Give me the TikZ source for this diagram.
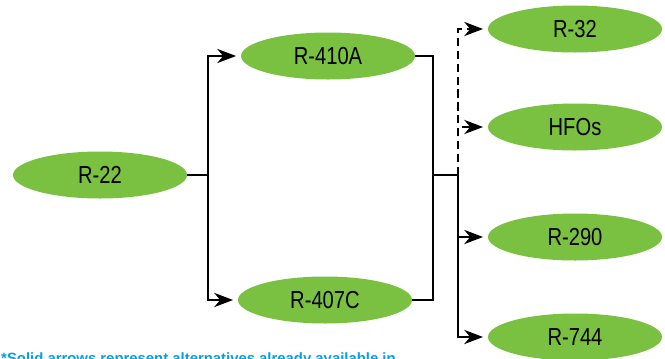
\documentclass[tikz,border=0pt]{standalone}
\usepackage{fontspec}
\setmainfont{Liberation Sans}[FakeStretch=0.82]
\newfontfamily\notefont{Liberation Sans}
\usepackage{tikz}
\usetikzlibrary{arrows.meta,positioning,shapes.geometric}
\definecolor{gasgreen}{RGB}{122,193,66}
\definecolor{noteblue}{RGB}{0,160,225}

\begin{document}
\begin{tikzpicture}[x=0.03cm,y=-0.03cm,
  every node/.style={font=\fontsize{21}{24}\selectfont},
  gas/.style={ellipse,fill=gasgreen,inner sep=0pt,minimum width=5.22cm,minimum height=1.41cm},
  link/.style={line width=2.2pt},
  tip/.style={-{Stealth[length=16pt,width=12pt,inset=5pt]},shorten >=4pt}]
\useasboundingbox (0,0) rectangle (665,358);
\clip (0,0) rectangle (665,358);
% refrigerants
\node[gas] (r22) at (100,175) {R-22};
\node[gas] (r410a) at (328,56) {R-410A};
\node[gas] (r407c) at (325,300) {R-407C};
\node[gas] (r32) at (575,29) {R-32};
\node[gas] (hfos) at (575,127) {HFOs};
\node[gas] (r290) at (575,237) {R-290};
\node[gas] (r744) at (575,337) {R-744};
% junctions
\coordinate (split) at (208,175);
\coordinate (join) at (433,175);
\coordinate (hub) at (458,175);
% connectors
\draw[link] (r22.east) -- (split);
\draw[link,tip] (split) |- (r410a.west);
\draw[link,tip] (split) |- (r407c.west);
\draw[link] (r410a.east) -| (join) |- (r407c.east);
\draw[link] (join) -- (hub);
\draw[link,tip] (hub) |- (r290.west);
\draw[link,tip] (hub) |- (r744.west);
\draw[link,dash pattern=on 7pt off 4pt,tip] (hub) |- (r32.west);
\draw[link,dash pattern=on 7pt off 4pt,tip] (hub) |- (hfos.west);
% note
\node[anchor=base west,inner sep=0pt,text=noteblue,font=\notefont\fontsize{12.7}{15}\selectfont\bfseries] (note) at (1,363) {*Solid arrows represent alternatives already available in};
\end{tikzpicture}
\end{document}
